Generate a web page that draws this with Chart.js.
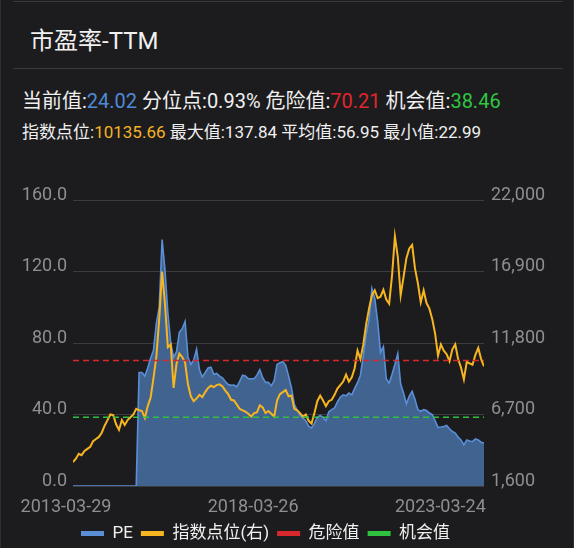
<!DOCTYPE html>
<html>
<head>
<meta charset="utf-8">
<title>市盈率-TTM</title>
<script src="https://cdn.jsdelivr.net/npm/chart.js@4.4.0/dist/chart.umd.min.js"></script>
<style>
    html, body { margin: 0; padding: 0; background: #1c1c1e; }
    #page {
        position: relative; width: 574px; height: 548px; overflow: hidden;
        font-family: Roboto, "Noto Sans CJK SC", sans-serif; color: #f0f0f0;
        box-sizing: border-box; border-left: 1px solid #2e2e30; border-right: 1px solid #2e2e30;
    }
    .rule { position: absolute; left: 12px; width: 550px; height: 1px; background: #3a3a3c; }
    .title { position: absolute; left: 29px; top: 26px; font-size: 24px; line-height: 30px; }
    .row { position: absolute; left: 21px; white-space: nowrap; }
    .row1 { top: 88px; font-size: 20px; line-height: 26px; }
    .row2 { top: 120px; font-size: 17px; line-height: 24px; }
    .blue { color: #4f8ad6; }
    .red { color: #e0262c; }
    .green { color: #2fc640; }
    .yellow { color: #f6b323; }
    #chartBox { position: absolute; left: 0; top: 0; width: 574px; height: 548px; }
</style>
</head>
<body>
<div id="page">
    <div class="rule" style="top:1px"></div>
    <div class="title">市盈率-TTM</div>
    <div class="rule" style="top:68px"></div>
    <div class="row row1">当前值:<span class="blue">24.02</span> 分位点:0.93% 危险值:<span class="red">70.21</span> 机会值:<span class="green">38.46</span></div>
    <div class="row row2">指数点位:<span class="yellow">10135.66</span> 最大值:137.84 平均值:56.95 最小值:22.99</div>
    <div id="chartBox"><canvas id="peChart"></canvas></div>
</div>
<script>
// Data: one point every 4 weeks starting 2013-03-29
const startDate = '2013-03-29';
const stepDays = 28;
const tickLabels = ['2013-03-29', '2018-03-26', '2023-03-24'];
const leftTicks = [0, 40, 80, 120, 160];
const rightTicks = [1600, 6700, 11800, 16900, 22000];
const dangerValue = 70.21;
const chanceValue = 38.46;

const peValues = [
    0, 0, 0, 0, 0, 0, 0, 0, 0, 0,
    0, 0, 0, 0, 0, 0, 0, 0, 0, 0,
    0, 0, 0, 63.5, 63.5, 61.5, 66, 71.5, 76, 91,
    100, 137.84, 121, 97, 80, 72, 75, 86, 88, 92,
    72, 68, 70.5, 76.5, 65, 61, 63.5, 66, 66.5, 62.5,
    63, 61.5, 60.5, 58.5, 56.8, 56.3, 56.5, 55.5, 58.5, 62,
    61.5, 60, 60, 60, 62, 65, 60.6, 58, 58, 56,
    59, 68, 69, 69.5, 67.5, 61.5, 55, 45.6, 42.5, 39.5,
    38, 36.5, 33.5, 32.5, 35, 38.5, 39.5, 38.4, 36.5, 41.5,
    42.7, 43.7, 47, 49.7, 51, 50.5, 52, 51, 54.6, 57.8,
    62, 73, 85, 93, 110.5, 105, 92, 74.7, 78, 60,
    57.5, 62.5, 68, 74, 57, 52, 46, 50.3, 53, 48.4,
    42.7, 41.8, 42.7, 42.2, 40.8, 39.9, 36.5, 32.8, 33, 33.3,
    33.9, 32, 30.5, 29.6, 27.3, 25.8, 22.99, 25.8, 25.2, 24.8,
    26.4, 25.8, 24.5, 24.02
];

const indexValues = [
    3300, 3550, 3900, 3800, 4100, 4250, 4400, 4800, 4950, 5100,
    5400, 5900, 6300, 6700, 6650, 6000, 5600, 6300, 5950, 6300,
    6500, 6700, 7100, 7000, 6950, 6450, 7300, 7900, 9300, 10800,
    13500, 16900, 14600, 11500, 11700, 8600, 10300, 11050, 10800, 10400,
    8850, 8000, 7650, 7850, 8100, 7950, 8300, 8600, 8750, 8650,
    8800, 8850, 8700, 8400, 8150, 7750, 7700, 7400, 7100, 7000,
    6900, 6750, 6550, 6800, 6850, 7350, 7200, 6800, 6950, 6750,
    6550, 7700, 8150, 8300, 8450, 8000, 8050, 7100, 7000, 6800,
    6550, 6700, 6250, 6050, 6800, 7650, 8050, 7700, 7300, 7650,
    7750, 8100, 8550, 8800, 9050, 9550, 9050, 9350, 10000, 11250,
    10650, 11700, 13150, 14250, 15200, 15550, 15000, 15100, 15600, 14900,
    14600, 16600, 19400, 17950, 15200, 16500, 17850, 18550, 18800, 17100,
    16050, 14700, 15550, 14650, 14250, 13500, 12450, 10900, 11700, 11250,
    11000, 10500, 11350, 11700, 10650, 10050, 9200, 10450, 10350, 10250,
    10950, 11450, 10650, 10135.66
];

const DAY = 86400000;
const startTime = Date.parse(startDate + 'T00:00:00Z');
const dayOffset = s => (Date.parse(s + 'T00:00:00Z') - startTime) / DAY;
const dateText = d => new Date(startTime + d * DAY).toISOString().slice(0, 10);
const toPoints = arr => arr.map((v, i) => ({ x: i * stepDays, y: v }));
const lastX = (peValues.length - 1) * stepDays;

const fontFamily = 'Roboto, "Noto Sans CJK SC", sans-serif';
const tickColor = '#8e8e93';
const gridColor = '#3c3c3e';
const tickFont = { size: 18, family: fontFamily };

new Chart(document.getElementById('peChart'), {
    type: 'line',
    data: {
        datasets: [
            {
                label: 'PE',
                data: toPoints(peValues),
                yAxisID: 'y',
                borderColor: '#5a8fd8',
                backgroundColor: '#416390',
                borderWidth: 1.6,
                fill: 'origin',
                order: 3
            },
            {
                label: '指数点位(右)',
                data: toPoints(indexValues),
                yAxisID: 'y1',
                borderColor: '#f7b520',
                borderWidth: 2,
                fill: false,
                order: 2
            },
            {
                label: '危险值',
                data: [{ x: 0, y: dangerValue }, { x: lastX, y: dangerValue }],
                yAxisID: 'y',
                borderColor: '#d8282c',
                borderWidth: 1.5,
                borderDash: [6, 4],
                fill: false,
                order: 1
            },
            {
                label: '机会值',
                data: [{ x: 0, y: chanceValue }, { x: lastX, y: chanceValue }],
                yAxisID: 'y',
                borderColor: '#2ec23e',
                borderWidth: 1.5,
                borderDash: [6, 4],
                fill: false,
                order: 0
            }
        ]
    },
    options: {
        responsive: true,
        maintainAspectRatio: false,
        animation: false,
        elements: { point: { radius: 0 }, line: { tension: 0 } },
        layout: { padding: { top: 200, left: 0, right: 0, bottom: -4 } },
        plugins: {
            tooltip: { enabled: false },
            legend: {
                position: 'bottom',
                align: 'start',
                fullSize: false,
                labels: {
                    color: '#f0f0f0',
                    font: { size: 17, family: fontFamily },
                    boxWidth: 23,
                    boxHeight: 5,
                    padding: 8,
                    sort: (a, b) => a.datasetIndex - b.datasetIndex,
                    generateLabels(chart) {
                        const items = Chart.defaults.plugins.legend.labels.generateLabels(chart);
                        return items.map(item => ({ ...item, fillStyle: item.strokeStyle, lineWidth: 0, lineDash: [] }));
                    }
                }
            }
        },
        scales: {
            x: {
                type: 'linear',
                min: 0,
                max: lastX,
                grid: { display: false },
                border: { display: false },
                afterBuildTicks: axis => { axis.ticks = tickLabels.map(s => ({ value: dayOffset(s) })); },
                afterFit: axis => { axis.height = 31; },
                ticks: {
                    autoSkip: false,
                    maxRotation: 0,
                    padding: 3,
                    labelOffset: -7,
                    color: tickColor,
                    font: tickFont,
                    callback: v => dateText(v)
                }
            },
            y: {
                position: 'left',
                min: leftTicks[0],
                max: leftTicks[leftTicks.length - 1],
                grid: { color: gridColor, lineWidth: 1, drawTicks: false },
                border: { display: false },
                afterBuildTicks: axis => { axis.ticks = leftTicks.map(v => ({ value: v })); },
                afterFit: axis => { axis.width = 72; },
                ticks: {
                    padding: 6,
                    labelOffset: -5,
                    color: tickColor,
                    font: tickFont,
                    callback: v => v.toFixed(1)
                }
            },
            y1: {
                position: 'right',
                min: rightTicks[0],
                max: rightTicks[rightTicks.length - 1],
                grid: { drawOnChartArea: false, drawTicks: false },
                border: { display: false },
                afterBuildTicks: axis => { axis.ticks = rightTicks.map(v => ({ value: v })); },
                afterFit: axis => { axis.width = 91; },
                ticks: {
                    padding: 7,
                    labelOffset: -5,
                    color: tickColor,
                    font: tickFont,
                    callback: v => v.toLocaleString('en-US')
                }
            }
        }
    }
});
</script>
</body>
</html>
